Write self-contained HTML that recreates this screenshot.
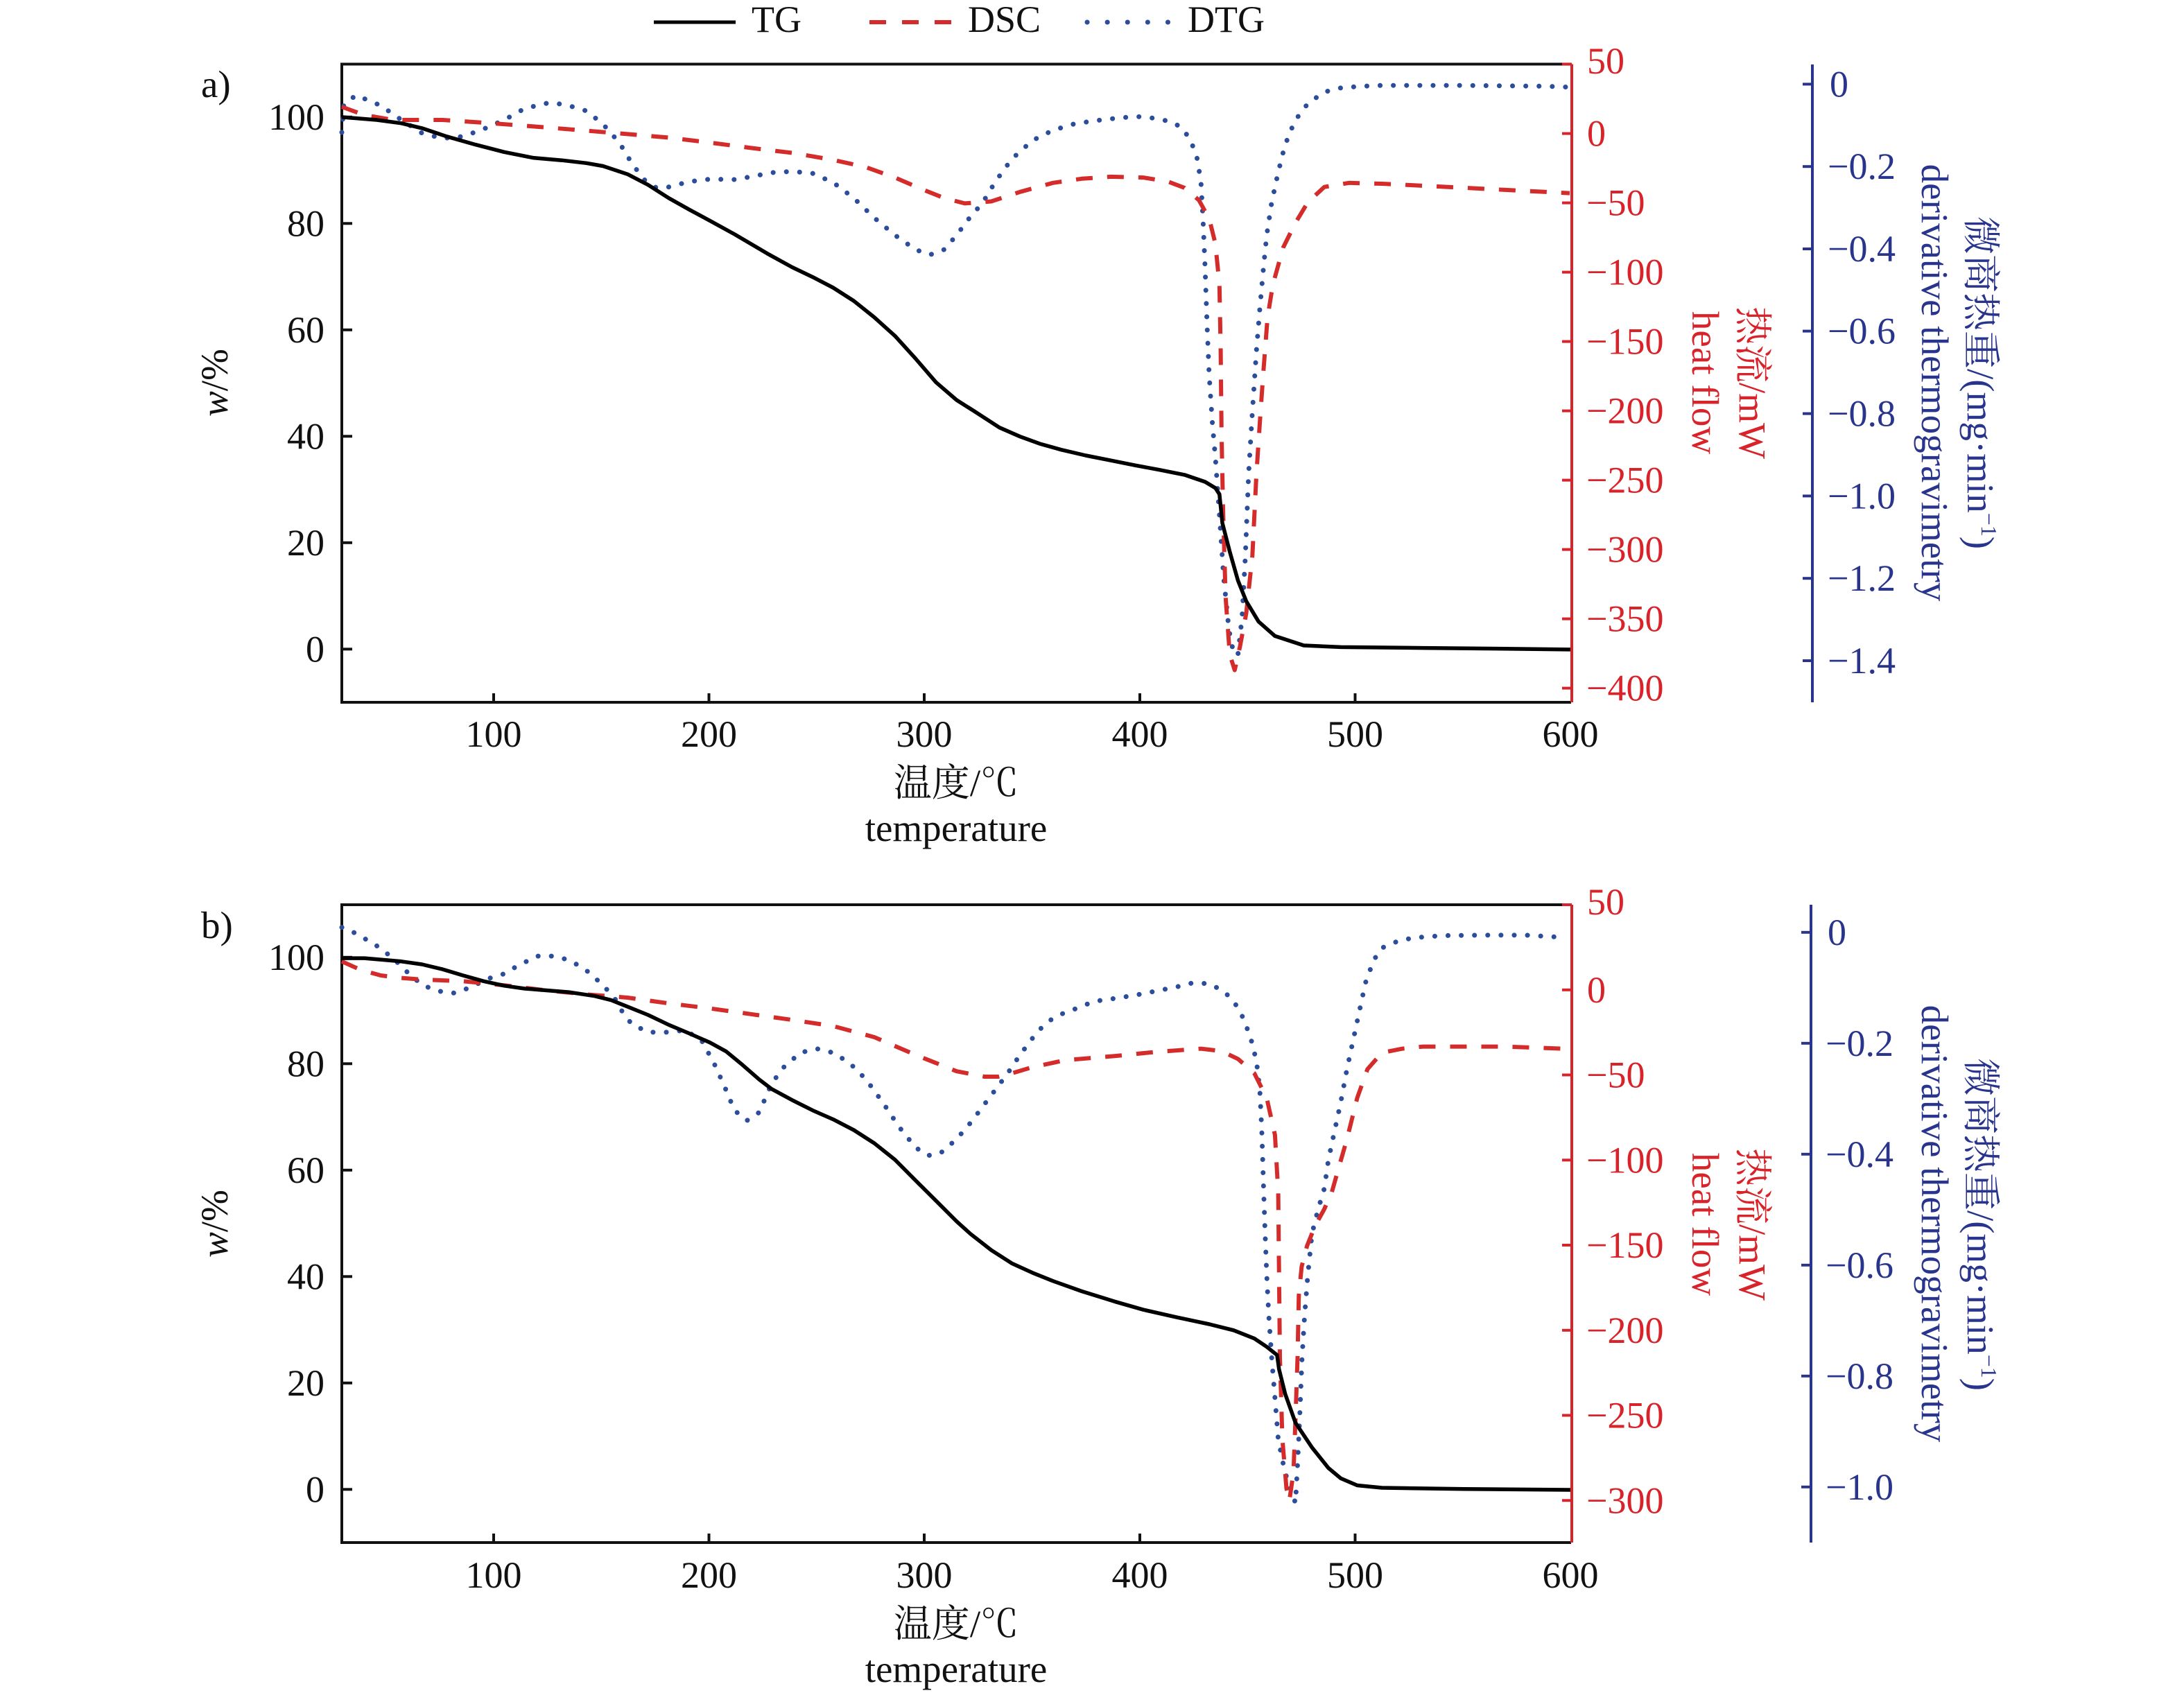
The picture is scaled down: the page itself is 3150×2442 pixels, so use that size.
<!DOCTYPE html>
<html>
<head>
<meta charset="utf-8">
<style>
html,body{margin:0;padding:0;background:#fff;}
svg{display:block;}
text{font-family:"Liberation Serif","Noto Serif CJK SC",serif;}
</style>
</head>
<body>
<svg width="3150" height="2442" viewBox="0 0 3150 2442" xmlns="http://www.w3.org/2000/svg">
<rect width="3150" height="2442" fill="#fff"/>

<!-- Legend -->
<g font-size="54">
<line x1="943" y1="32" x2="1061" y2="32" stroke="#000" stroke-width="5"/>
<text x="1084" y="46" fill="#111">TG</text>
<line x1="1254" y1="32" x2="1372" y2="32" stroke="#d42b2b" stroke-width="6" stroke-dasharray="24 23"/>
<text x="1396" y="46" fill="#111">DSC</text>
<line x1="1568" y1="32" x2="1690" y2="32" stroke="#2c4d9c" stroke-width="7" stroke-linecap="round" stroke-dasharray="0.1 29"/>
<text x="1713" y="46" fill="#111">DTG</text>
</g>

<!-- ================= PANEL A ================= -->
<g id="panelA">
<text x="290" y="140" font-size="55" fill="#111">a)</text>
<!-- box -->
<polyline points="2266,92.5 493,92.5 493,1013 2266,1013" fill="none" stroke="#111" stroke-width="4"/>
<!-- left ticks -->
<g stroke="#111" stroke-width="4">
<line x1="493" y1="168.8" x2="508" y2="168.8"/>
<line x1="493" y1="322.3" x2="508" y2="322.3"/>
<line x1="493" y1="475.8" x2="508" y2="475.8"/>
<line x1="493" y1="629.3" x2="508" y2="629.3"/>
<line x1="493" y1="782.8" x2="508" y2="782.8"/>
<line x1="493" y1="936.3" x2="508" y2="936.3"/>
<line x1="712" y1="1013" x2="712" y2="1000"/>
<line x1="1022.5" y1="1013" x2="1022.5" y2="1000"/>
<line x1="1333" y1="1013" x2="1333" y2="1000"/>
<line x1="1644" y1="1013" x2="1644" y2="1000"/>
<line x1="1954.5" y1="1013" x2="1954.5" y2="1000"/>
</g>
<g font-size="54" fill="#111" text-anchor="end">
<text x="468" y="186.8">100</text>
<text x="468" y="340.3">80</text>
<text x="468" y="493.8">60</text>
<text x="468" y="647.3">40</text>
<text x="468" y="800.8">20</text>
<text x="468" y="954.3">0</text>
</g>
<g font-size="54" fill="#111" text-anchor="middle">
<text x="712" y="1077">100</text>
<text x="1022.5" y="1077">200</text>
<text x="1333" y="1077">300</text>
<text x="1644" y="1077">400</text>
<text x="1954.5" y="1077">500</text>
<text x="2265" y="1077">600</text>
</g>
<text x="1379" y="1148" font-size="55" fill="#111" text-anchor="middle">温度/℃</text>
<text x="1379" y="1213" font-size="55" fill="#111" text-anchor="middle">temperature</text>
<text transform="translate(328,552) rotate(-90)" font-size="55" fill="#111" text-anchor="middle"><tspan font-style="italic">w</tspan>/%</text>

<!-- red axis -->
<line x1="2267" y1="92.5" x2="2267" y2="1013" stroke="#d8232a" stroke-width="4"/>
<g stroke="#d8232a" stroke-width="4">
<line x1="2253" y1="92.6" x2="2267" y2="92.6"/>
<line x1="2253" y1="192.6" x2="2267" y2="192.6"/>
<line x1="2253" y1="292.6" x2="2267" y2="292.6"/>
<line x1="2253" y1="392.6" x2="2267" y2="392.6"/>
<line x1="2253" y1="492.6" x2="2267" y2="492.6"/>
<line x1="2253" y1="592.6" x2="2267" y2="592.6"/>
<line x1="2253" y1="692.6" x2="2267" y2="692.6"/>
<line x1="2253" y1="792.6" x2="2267" y2="792.6"/>
<line x1="2253" y1="892.6" x2="2267" y2="892.6"/>
<line x1="2253" y1="992.6" x2="2267" y2="992.6"/>
</g>
<g font-size="54" fill="#d8232a">
<text x="2289" y="106">50</text>
<text x="2289" y="210.6">0</text>
<text x="2288" y="310.6">−50</text>
<text x="2288" y="410.6">−100</text>
<text x="2288" y="510.6">−150</text>
<text x="2288" y="610.6">−200</text>
<text x="2288" y="710.6">−250</text>
<text x="2288" y="810.6">−300</text>
<text x="2288" y="910.6">−350</text>
<text x="2288" y="1010.6">−400</text>
</g>
<text transform="translate(2509,552) rotate(90)" font-size="55" fill="#d8232a" text-anchor="middle">热流/mW</text>
<text transform="translate(2441,552) rotate(90)" font-size="55" fill="#d8232a" text-anchor="middle">heat flow</text>

<!-- blue axis -->
<line x1="2614" y1="93" x2="2614" y2="1013" stroke="#29358c" stroke-width="4"/>
<g stroke="#29358c" stroke-width="4">
<line x1="2600" y1="121.4" x2="2614" y2="121.4"/>
<line x1="2600" y1="240.2" x2="2614" y2="240.2"/>
<line x1="2600" y1="359" x2="2614" y2="359"/>
<line x1="2600" y1="477.6" x2="2614" y2="477.6"/>
<line x1="2600" y1="596.6" x2="2614" y2="596.6"/>
<line x1="2600" y1="715.4" x2="2614" y2="715.4"/>
<line x1="2600" y1="834.2" x2="2614" y2="834.2"/>
<line x1="2600" y1="953" x2="2614" y2="953"/>
</g>
<g font-size="54" fill="#29358c">
<text x="2639" y="139.4">0</text>
<text x="2636" y="258.2">−0.2</text>
<text x="2636" y="377">−0.4</text>
<text x="2636" y="495.6">−0.6</text>
<text x="2636" y="614.6">−0.8</text>
<text x="2636" y="733.4">−1.0</text>
<text x="2636" y="852.2">−1.2</text>
<text x="2636" y="971">−1.4</text>
</g>
<text transform="translate(2838,552) rotate(90)" font-size="55" fill="#29358c" text-anchor="middle">微商热重/(mg·min<tspan font-size="32" dy="-20">−1</tspan><tspan dy="20">)</tspan></text>
<text transform="translate(2772,552) rotate(90)" font-size="55" fill="#29358c" text-anchor="middle">derivative thermogravimetry</text>

<!-- curves A -->
<polyline fill="none" stroke="#2c4d9c" stroke-width="7" stroke-linecap="round" stroke-linejoin="round" stroke-dasharray="0.1 19"
points="493,191 496,150 513.7,137.4 549.3,152.3 579,173 608.6,192 638.3,199.7 667.9,196.8 697.6,186.1 727.2,173 756.9,156.4 792.5,148.1 816.2,151.1 845.9,160 869.6,179 893.3,205.7 911.1,235.3 928.9,259 946.7,270.9 964.5,269.7 994.1,262 1023.8,258.4 1059.4,259 1083.1,254.9 1112.8,249 1142.4,247.2 1172.1,250.1 1201.7,263.2 1231.4,285.7 1261,314.2 1290.7,339.1 1320.3,359.9 1341.1,367.6 1361.9,359.9 1379.7,339.1 1397.5,315.4 1417.8,291.7 1435.6,262 1459.3,229.4 1489,202.7 1518.6,187.9 1548.3,179 1577.9,174.2 1619.4,169.5 1643.2,168.3 1666.9,170.7 1690.6,176 1705.4,184.9 1717.3,202.7 1726.2,226.4 1732.1,262 1735.1,315.4 1738.1,386.6 1741,469.6 1744,540.8 1748.7,611.9 1752.9,659.4 1758.8,742.4 1764.8,831.4 1772.5,908.5 1779.6,944.1 1785.5,944.1 1791.4,890.7 1796.2,801.7 1800.9,683.1 1806.3,594.1 1812.2,505.2 1817,445.9 1822.3,386.6 1827,339.1 1834.2,291.7 1841.9,256.1 1849.6,223.4 1857.9,196.8 1868.5,173 1886.3,149.3 1910.1,132.7 1933.8,126.8 1963.4,124.4 1993.1,123.2 2111.7,123.2 2230.3,124.4 2262,125.6"/>
<polyline fill="none" stroke="#d42b2b" stroke-width="6" stroke-linejoin="round" stroke-dasharray="24 21"
points="493,154.1 525.6,165.9 567.1,173 638.3,173 709.4,177.8 786.6,183.7 845.9,188.5 917,194.4 964.5,198.5 1023.8,205.7 1083.1,213.4 1142.4,220.5 1201.7,230.6 1249.2,241.2 1290.7,256.1 1332.2,273.9 1361.9,285.7 1391.5,293.4 1429.7,290.5 1471.2,276.8 1518.6,263.8 1560.1,257.8 1601.7,254.9 1649.1,256.1 1684.7,262 1708.4,270.9 1729.2,288.7 1744,315.4 1752.9,351 1758.8,410.3 1760.6,505.2 1761.8,623.8 1764.2,742.4 1767.7,861 1773.7,944.1 1780.8,966.6 1788.5,932.2 1797.4,884.8 1806.3,801.7 1812.2,683.1 1818.1,594.1 1822.3,534.8 1828.2,457.7 1835.9,410.3 1850.8,356.9 1868.5,321.3 1886.3,291.7 1910.1,269.7 1945.7,263.8 1993.1,265 2052.4,267.9 2111.7,270.9 2171,273.9 2264,278.6"/>
<polyline fill="none" stroke="#000" stroke-width="5.5" stroke-linejoin="round"
points="493,168.9 543.4,173 579,177.8 608.6,184.9 644.2,196.8 685.7,208.6 727.2,219.3 768.8,227.6 810.3,231.2 845.9,235.3 869.6,239.5 905.2,251.3 934.8,266.7 964.5,285.7 994.1,302.3 1023.8,318.3 1059.4,337.9 1106.8,365.8 1142.4,385.4 1172.1,399.6 1201.7,415 1231.4,434 1261,457.7 1290.7,484.4 1320.3,517 1350,551.4 1379.7,577 1405,593 1417.8,601.3 1441.5,616.7 1471.2,629.7 1500.8,640.4 1530.5,648.7 1566.1,657 1601.7,664.1 1637.2,671.2 1672.8,677.8 1708.4,684.9 1738.1,695 1752.9,703.9 1758.8,712.8 1763,754.3 1773.7,795.8 1785.5,837.3 1797.4,867 1815.2,896.6 1838.9,917.4 1880.4,931 1933.8,933.4 2052.4,934.6 2171,935.7 2265,936.9"/>
</g>

<!-- ================= PANEL B ================= -->
<g id="panelB">
<text x="290" y="1353" font-size="55" fill="#111">b)</text>
<polyline points="2266,1305 493,1305 493,2225 2266,2225" fill="none" stroke="#111" stroke-width="4"/>
<g stroke="#111" stroke-width="4">
<line x1="493" y1="1380.8" x2="508" y2="1380.8"/>
<line x1="493" y1="1534.3" x2="508" y2="1534.3"/>
<line x1="493" y1="1687.8" x2="508" y2="1687.8"/>
<line x1="493" y1="1841.3" x2="508" y2="1841.3"/>
<line x1="493" y1="1994.8" x2="508" y2="1994.8"/>
<line x1="493" y1="2148.3" x2="508" y2="2148.3"/>
<line x1="712" y1="2225" x2="712" y2="2212"/>
<line x1="1022.5" y1="2225" x2="1022.5" y2="2212"/>
<line x1="1333" y1="2225" x2="1333" y2="2212"/>
<line x1="1644" y1="2225" x2="1644" y2="2212"/>
<line x1="1954.5" y1="2225" x2="1954.5" y2="2212"/>
</g>
<g font-size="54" fill="#111" text-anchor="end">
<text x="468" y="1398.8">100</text>
<text x="468" y="1552.3">80</text>
<text x="468" y="1705.8">60</text>
<text x="468" y="1859.3">40</text>
<text x="468" y="2012.8">20</text>
<text x="468" y="2166.3">0</text>
</g>
<g font-size="54" fill="#111" text-anchor="middle">
<text x="712" y="2290">100</text>
<text x="1022.5" y="2290">200</text>
<text x="1333" y="2290">300</text>
<text x="1644" y="2290">400</text>
<text x="1954.5" y="2290">500</text>
<text x="2265" y="2290">600</text>
</g>
<text x="1379" y="2361" font-size="55" fill="#111" text-anchor="middle">温度/℃</text>
<text x="1379" y="2426" font-size="55" fill="#111" text-anchor="middle">temperature</text>
<text transform="translate(328,1765) rotate(-90)" font-size="55" fill="#111" text-anchor="middle"><tspan font-style="italic">w</tspan>/%</text>

<line x1="2267" y1="1305" x2="2267" y2="2225" stroke="#d8232a" stroke-width="4"/>
<g stroke="#d8232a" stroke-width="4">
<line x1="2253" y1="1305" x2="2267" y2="1305"/>
<line x1="2253" y1="1427.8" x2="2267" y2="1427.8"/>
<line x1="2253" y1="1550.5" x2="2267" y2="1550.5"/>
<line x1="2253" y1="1673.3" x2="2267" y2="1673.3"/>
<line x1="2253" y1="1796" x2="2267" y2="1796"/>
<line x1="2253" y1="1918.8" x2="2267" y2="1918.8"/>
<line x1="2253" y1="2041.5" x2="2267" y2="2041.5"/>
<line x1="2253" y1="2164.3" x2="2267" y2="2164.3"/>
</g>
<g font-size="54" fill="#d8232a">
<text x="2289" y="1319">50</text>
<text x="2289" y="1445.8">0</text>
<text x="2288" y="1568.5">−50</text>
<text x="2288" y="1691.3">−100</text>
<text x="2288" y="1814">−150</text>
<text x="2288" y="1936.8">−200</text>
<text x="2288" y="2059.5">−250</text>
<text x="2288" y="2182.3">−300</text>
</g>
<text transform="translate(2509,1766) rotate(90)" font-size="55" fill="#d8232a" text-anchor="middle">热流/mW</text>
<text transform="translate(2441,1766) rotate(90)" font-size="55" fill="#d8232a" text-anchor="middle">heat flow</text>

<line x1="2612" y1="1305" x2="2612" y2="2225" stroke="#29358c" stroke-width="4"/>
<g stroke="#29358c" stroke-width="4">
<line x1="2598" y1="1344.8" x2="2612" y2="1344.8"/>
<line x1="2598" y1="1504.8" x2="2612" y2="1504.8"/>
<line x1="2598" y1="1664.8" x2="2612" y2="1664.8"/>
<line x1="2598" y1="1824.8" x2="2612" y2="1824.8"/>
<line x1="2598" y1="1984.8" x2="2612" y2="1984.8"/>
<line x1="2598" y1="2144.8" x2="2612" y2="2144.8"/>
</g>
<g font-size="54" fill="#29358c">
<text x="2636" y="1362.8">0</text>
<text x="2633" y="1522.8">−0.2</text>
<text x="2633" y="1682.8">−0.4</text>
<text x="2633" y="1842.8">−0.6</text>
<text x="2633" y="2002.8">−0.8</text>
<text x="2633" y="2162.8">−1.0</text>
</g>
<text transform="translate(2838,1766) rotate(90)" font-size="55" fill="#29358c" text-anchor="middle">微商热重/(mg·min<tspan font-size="32" dy="-20">−1</tspan><tspan dy="20">)</tspan></text>
<text transform="translate(2772,1765) rotate(90)" font-size="55" fill="#29358c" text-anchor="middle">derivative thermogravimetry</text>

<!-- curves B -->
<polyline fill="none" stroke="#2c4d9c" stroke-width="7" stroke-linecap="round" stroke-linejoin="round" stroke-dasharray="0.1 19"
points="493,1337.6 513.7,1346.5 543.4,1364.3 567.1,1382.1 584.9,1399.9 608.6,1420.7 632.3,1429.6 656.1,1432.5 679.8,1423.6 703.5,1411.8 727.2,1404.6 745,1394 774.7,1379.1 798.4,1379.1 822.1,1385.1 845.9,1399.9 869.6,1420.7 887.4,1441.4 899.2,1462.2 911.1,1477 934.8,1488.9 964.5,1488.9 988.2,1485.9 1011.9,1500.7 1029.7,1533.3 1044.5,1566 1059.4,1601.6 1077.2,1616.4 1095,1604.5 1112.8,1563 1130.5,1539.3 1154.3,1518.5 1178,1512.6 1201.7,1518.5 1225.4,1533.3 1249.2,1557.1 1272.9,1589.7 1296.6,1625.3 1320.3,1654.9 1338.1,1666.8 1355.9,1663.8 1379.7,1643.1 1400,1619.3 1417.8,1595.6 1435.6,1571.9 1453.4,1548.2 1471.2,1521.5 1489,1497.8 1506.8,1477 1524.6,1465.1 1548.3,1456.2 1577.9,1444.4 1607.6,1440.2 1637.2,1435.5 1666.9,1429.6 1696.6,1423.6 1720.3,1417.7 1744,1418.9 1764.8,1429.6 1779.6,1444.4 1791.4,1465.1 1803.3,1494.8 1812.2,1530.4 1817,1571.9 1819.9,1631.2 1822.3,1708.3 1824.7,1779.5 1827,1838.8 1830,1898.1 1834.1,1957.4 1838.9,2016.7 1843.6,2076 1850.8,2111.6 1856.7,2135.3 1868.5,2168 1871.5,2111.6 1874.5,2046.4 1878,1957.4 1881.6,1898.1 1886.3,1838.8 1892.3,1779.5 1901.2,1743.9 1910.1,1714.2 1916,1672.7 1924.9,1631.2 1933.8,1589.7 1942.7,1542.2 1951.6,1500.7 1960.5,1459.2 1969.4,1417.7 1981.2,1385.1 1993.1,1367.3 2016.8,1357.2 2040.5,1352.4 2082.1,1349.5 2141.4,1348.9 2200.7,1348.9 2260,1352.4"/>
<polyline fill="none" stroke="#d42b2b" stroke-width="6" stroke-linejoin="round" stroke-dasharray="24 21"
points="493,1386.8 519.7,1398.7 549.3,1407 579,1410.6 608.6,1412.9 667.9,1415.3 727.2,1421.2 786.6,1428.4 845.9,1434.3 905.2,1439 964.5,1447.3 1023.8,1454.5 1083.1,1462.8 1142.4,1471.1 1201.7,1480 1261,1496 1320.3,1521.5 1350,1533.3 1379.7,1545.2 1420,1553 1440,1553 1459.3,1548.2 1489,1539.3 1536.4,1529.2 1607.6,1523.3 1666.9,1517.3 1732.1,1512.6 1761.8,1516.1 1785.5,1527.4 1809.2,1548.2 1827,1583.8 1838.9,1637.1 1843.6,1720.2 1844.8,1838.8 1846,1957.4 1849.6,2076 1855.5,2147.2 1859.6,2165 1865.6,2123.5 1868.5,2046.4 1871.5,1957.4 1873.3,1868.4 1877.4,1826.9 1885.1,1797.3 1897,1767.6 1910.1,1743.9 1920.7,1720.2 1930.8,1684.6 1942.7,1643.1 1957.5,1583.8 1972.3,1542.2 1993.1,1518.5 2022.8,1512.6 2052.4,1509.6 2171,1509.6 2264,1513"/>
<polyline fill="none" stroke="#000" stroke-width="5.5" stroke-linejoin="round"
points="493,1382.1 525.6,1382.1 579,1386.8 608.6,1391 638.3,1398.1 667.9,1407 697.6,1415.3 727.2,1421.8 756.9,1426 786.6,1428.4 822.1,1431.3 857.7,1436.7 881.4,1442.6 905.2,1452.1 934.8,1464 964.5,1478.2 994.1,1490.6 1023.8,1503.7 1047.5,1516.7 1071.2,1536.3 1095,1557.1 1112.8,1570.7 1142.4,1586.7 1172.1,1601.6 1201.7,1614.6 1231.4,1630 1261,1649 1290.7,1672.7 1320.3,1702.4 1350,1732 1379.7,1761.7 1400,1780 1429.7,1803.2 1459.3,1822.2 1489,1835.8 1518.6,1847.7 1560.1,1862.5 1607.6,1877.3 1649.1,1889.2 1696.6,1899.9 1744,1910 1779.6,1918.9 1809.2,1930.7 1827,1942.6 1841.9,1954.5 1844.8,1975.2 1853.7,2010.8 1868.5,2052.3 1892.3,2087.9 1916,2117.5 1933.8,2132.4 1957.5,2142.5 1993.1,2146 2111.7,2147.8 2265,2149"/>
</g>
</svg>
</body>
</html>
